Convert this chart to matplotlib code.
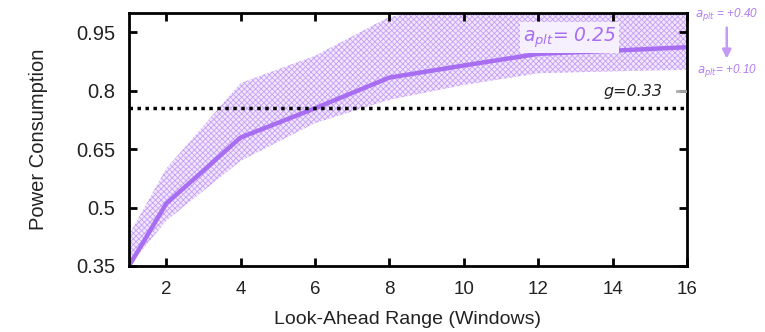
import matplotlib
matplotlib.use("Agg")
import matplotlib.pyplot as plt
import numpy as np

# Data
x_vals = [1, 2, 4, 6, 8, 10, 12, 14, 16]
power_mean = [0.35, 0.51, 0.68, 0.755, 0.834, 0.865, 0.895, 0.903, 0.912]
band_upper = [0.43, 0.60, 0.82, 0.89, 0.99, 1.02, 1.03, 1.03, 1.03]
band_lower = [0.35, 0.466, 0.62, 0.717, 0.777, 0.815, 0.845, 0.85, 0.854]
threshold = 0.755
x_ticks = [2, 4, 6, 8, 10, 12, 14, 16]
y_ticks = [0.35, 0.5, 0.65, 0.8, 0.95]
y_ticklabels = ["0.35", "0.5", "0.65", "0.8", "0.95"]

plt.rcParams['font.family'] = ['Liberation Sans', 'DejaVu Sans']
plt.rcParams['hatch.linewidth'] = 0.6

fig = plt.figure(figsize=(7.65, 3.32), dpi=100)
ax = fig.add_axes([0.1686, 0.1988, 0.898 - 0.1686, 0.961 - 0.1988])

purple = '#a86ef2'
txtc = '#222222'
ax.fill_between(x_vals, band_lower, band_upper, facecolor='#f1e6fd',
                edgecolor='#c6a0f5', hatch='xxxxxx', linewidth=0)
ax.plot(x_vals, power_mean, color=purple, lw=3.2, solid_capstyle='butt', zorder=3)
ax.axhline(threshold, color='black', lw=2.5, ls=(0, (1, 1.3)), zorder=4)

ax.set_xlim(1, 16)
ax.set_ylim(0.35, 1.0)
ax.set_xticks(x_ticks)
ax.set_yticks(y_ticks)
ax.set_yticklabels(y_ticklabels)
ax.tick_params(direction='in', length=6, width=2, top=True, right=True,
               labelcolor=txtc)
ax.tick_params(axis='y', labelsize=14.5, pad=10)
ax.tick_params(axis='x', labelsize=13.5, pad=11)
for s in ax.spines.values():
    s.set_linewidth(2)
    s.set_zorder(5)

ax.set_xlabel('Look-Ahead Range (Windows)', fontsize=14, labelpad=9, color=txtc)
ax.set_ylabel('Power Consumption', fontsize=14.5, labelpad=20, color=txtc)

# Annotations
ax.text(12.85, 0.937, r'$a_{plt}$= 0.25', color=purple, fontsize=13.5,
        fontstyle='italic', family='DejaVu Sans', ha='center', va='center',
        bbox=dict(facecolor='#f6f0fe', edgecolor='none', pad=2), zorder=6)
ax.text(15.35, 0.797, 'g=0.33', color=txtc, fontsize=11.5,
        fontstyle='italic', family='DejaVu Sans', ha='right', va='center', zorder=6)
ax.plot([15.72, 15.98], [0.799, 0.799], color='#aaaaaa', lw=2, zorder=6)

fig.text(0.950, 0.955, r'$a_{plt}$ = +0.40', color='#b27cf0', fontsize=8.5,
         fontstyle='italic', ha='center', va='center')
fig.text(0.950, 0.789, r'$a_{plt}$= +0.10', color='#b27cf0', fontsize=8.5,
         fontstyle='italic', ha='center', va='center')
fig.patches.append(matplotlib.patches.FancyArrowPatch(
    (0.950, 0.925), (0.950, 0.815), transform=fig.transFigure,
    arrowstyle='-|>', mutation_scale=13, color='#c49af5', lw=1.8))

fig.savefig('out.png', dpi=100)
